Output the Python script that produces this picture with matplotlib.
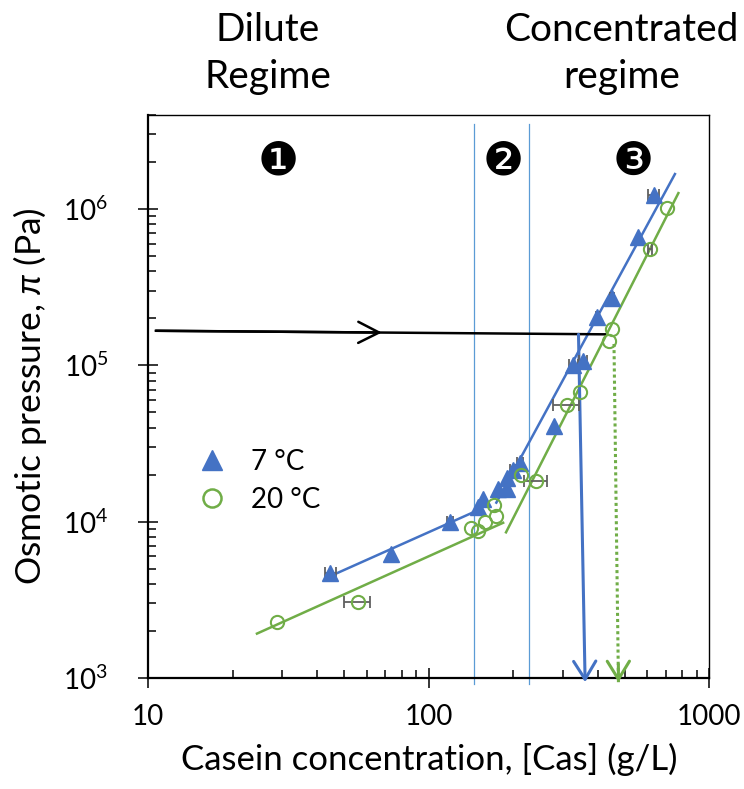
import matplotlib
matplotlib.use("Agg")
import matplotlib.pyplot as plt
import numpy as np
from matplotlib.lines import Line2D

plt.rcParams["font.family"] = ["Lato", "DejaVu Sans"]
plt.rcParams["mathtext.fontset"] = "custom"
plt.rcParams["mathtext.rm"] = "Lato"
plt.rcParams["mathtext.it"] = "Lato:italic"
plt.rcParams["mathtext.fallback"] = "stixsans"

BLUE = "#4472C4"
GREEN = "#70AD47"
LIGHT_BLUE = "#5B9BD5"
GRAY = "#606060"

# 7 °C data (casein g/L, osmotic pressure Pa, x error)
c_7 = np.array([44.6, 73.1, 118.7, 150.3, 156, 175.8, 190, 190.4, 199, 211.5,
                278.6, 327.6, 354.5, 399, 449.7, 554.6, 632.6])
p_7 = np.array([4680, 6210, 10000, 12330, 14020, 16150, 16150, 19100, 21400, 23900,
                40800, 1.0e5, 1.07e5, 2.03e5, 2.69e5, 6.62e5, 1.23e6])
err_7 = np.array([2, 0, 3, 0, 0, 0, 0, 0, 5, 5, 0, 12, 12, 4, 8, 0, 28])

# 20 °C data
c_20 = np.array([28.7, 55.8, 141, 150, 158.5, 172.9, 170.2, 213.3, 241.8, 310.5,
                 344.5, 438.7, 448.3, 615, 707.6])
p_20 = np.array([2280, 3050, 9100, 8690, 10000, 10900, 12750, 19900, 18100, 55700,
                 67100, 1.425e5, 1.715e5, 5.53e5, 1.01e6])
err_20 = np.array([0, 6, 0, 0, 0, 0, 0, 0, 23, 33, 0, 0, 0, 10, 0])

# power-law fits, two regimes per temperature
fit7_dilute_c, fit7_dilute_p = [43.9, 146.6], [4430, 11650]
fit7_conc_c, fit7_conc_p = [174, 753.6], [13240, 1.675e6]
fit20_dilute_c, fit20_dilute_p = [24.4, 184], [1923, 9840]
fit20_conc_c, fit20_conc_p = [188.4, 775.3], [8550, 1.265e6]

# regime boundaries and guide arrows
boundaries = [145, 227]
boundary_p = [3.5e6, 915]
guide_c, guide_p = [10.65, 424], [166500, 158000]
guide_head_c = 68
arrow7_c, arrow7_p = [341.5, 360.6], [158000, 940]
arrow20_c, arrow20_p = [457, 474], [137000, 940]

regime_marks = ["\u2776", "\u2777", "\u2778"]
regime_mark_c = [29, 184, 534]
regime_mark_p = 2.0e6

fig = plt.figure(figsize=(7.44, 7.89), dpi=100)
ax = fig.add_axes([0.1993, 0.1407, 0.7542, 0.7136])
ax.set_xscale("log")
ax.set_yscale("log")
ax.set_xlim(10, 1000)
ax.set_ylim(1e3, 4e6)

for b in boundaries:
    ax.plot([b, b], boundary_p, color=LIGHT_BLUE, lw=0.9, clip_on=False, zorder=1)

ax.plot(fit7_dilute_c, fit7_dilute_p, color=BLUE, lw=1.8, zorder=2)
ax.plot(fit7_conc_c, fit7_conc_p, color=BLUE, lw=1.8, zorder=2)
ax.plot(fit20_dilute_c, fit20_dilute_p, color=GREEN, lw=1.8, zorder=2)
ax.plot(fit20_conc_c, fit20_conc_p, color=GREEN, lw=1.8, zorder=2)

# horizontal guide with open head in the middle
ax.plot(guide_c, guide_p, color="black", lw=1.8, zorder=3)
gp_head = np.interp(np.log10(guide_head_c), np.log10(guide_c), guide_p)
ax.annotate("", xy=(guide_head_c, gp_head), xytext=(guide_c[0], guide_p[0]),
            arrowprops=dict(arrowstyle="->,head_length=0.75,head_width=0.38",
                            color="black", lw=1.8, mutation_scale=20,
                            shrinkA=0, shrinkB=0), zorder=3)

ax.annotate("", xy=(arrow7_c[1], arrow7_p[1]), xytext=(arrow7_c[0], arrow7_p[0]),
            arrowprops=dict(arrowstyle="->,head_length=0.65,head_width=0.4",
                            color=BLUE, lw=2.2, mutation_scale=20,
                            shrinkA=0, shrinkB=0), annotation_clip=False, zorder=3)
ax.plot(arrow20_c, arrow20_p, color=GREEN, lw=2.2, ls=(0, (1, 1)), clip_on=False, zorder=3)
ax.annotate("", xy=(arrow20_c[1], arrow20_p[1]), xytext=(arrow20_c[1] - 0.3, arrow20_p[1] * 1.3),
            arrowprops=dict(arrowstyle="->,head_length=0.65,head_width=0.4",
                            color=GREEN, lw=2.2, mutation_scale=20,
                            shrinkA=0, shrinkB=0), annotation_clip=False, zorder=3)

m7 = err_7 > 0
ax.errorbar(c_7[m7], p_7[m7], xerr=err_7[m7], fmt="none", ecolor=GRAY,
            elinewidth=1.3, capsize=4, capthick=1.3, zorder=4)
m20 = err_20 > 0
ax.errorbar(c_20[m20], p_20[m20], xerr=err_20[m20], fmt="none", ecolor=GRAY,
            elinewidth=1.3, capsize=4, capthick=1.3, zorder=4)

ax.plot(c_7, p_7, ls="none", marker="^", ms=11.5, color=BLUE, mec=BLUE, zorder=5)
ax.plot(c_20, p_20, ls="none", marker="o", ms=9.5, mfc="none", mec=GREEN, mew=1.5, zorder=5)

for mark, mc in zip(regime_marks, regime_mark_c):
    ax.text(mc, regime_mark_p, mark, fontsize=33, family="DejaVu Sans",
            ha="center", va="center", zorder=6)

handles = [Line2D([], [], ls="none", marker="^", ms=14, color=BLUE),
           Line2D([], [], ls="none", marker="o", ms=13, mfc="none", mec=GREEN, mew=1.8)]
ax.legend(handles, ["7 \u00b0C", "20 \u00b0C"], loc="center left",
          bbox_to_anchor=(0.04, 0.35), frameon=False, fontsize=20,
          handlelength=1.2, handletextpad=0.8, labelspacing=0.45)

ax.set_xticks([10, 100, 1000])
ax.set_xticklabels(["10", "100", "1000"])
ax.set_yticks([1e3, 1e4, 1e5, 1e6])
ax.set_yticklabels([r"$10^{3}$", r"$10^{4}$", r"$10^{5}$", r"$10^{6}$"])
ax.tick_params(which="major", direction="inout", length=14, width=1.1, labelsize=20)
ax.tick_params(axis="y", which="major", pad=22)
ax.tick_params(axis="x", which="major", pad=12)
ax.tick_params(which="minor", direction="in", length=6, width=1.1)
ax.yaxis.set_minor_formatter(matplotlib.ticker.NullFormatter())
ax.xaxis.set_minor_formatter(matplotlib.ticker.NullFormatter())

for side in ["top", "right"]:
    ax.spines[side].set_linewidth(1.0)
for side in ["left", "bottom"]:
    ax.spines[side].set_linewidth(1.6)

ax.set_xlabel("Casein concentration, [Cas] (g/L)", fontsize=25, labelpad=9)
ax.set_ylabel(r"Osmotic pressure, $\pi$ (Pa)", fontsize=25.5, labelpad=10)

fig.text(0.360, 0.962, "Dilute", fontsize=28, ha="center", va="center")
fig.text(0.360, 0.903, "Regime", fontsize=28, ha="center", va="center")
fig.text(0.835, 0.962, "Concentrated", fontsize=28, ha="center", va="center")
fig.text(0.835, 0.903, "regime", fontsize=28, ha="center", va="center")

fig.savefig("out.png", dpi=100)
